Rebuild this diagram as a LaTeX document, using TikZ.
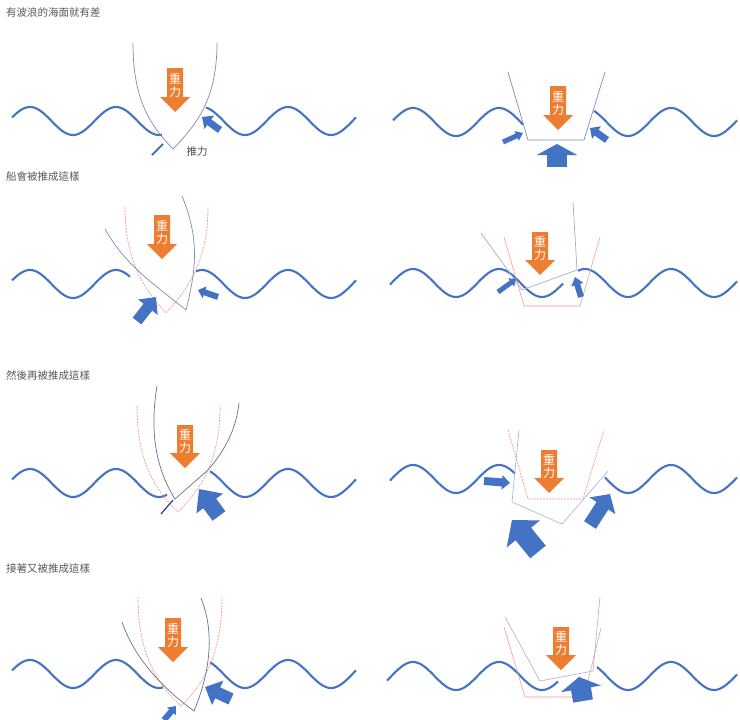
\documentclass[tikz,border=0pt]{standalone}
\usepackage{fontspec}
\newfontfamily\cjk{Noto Sans CJK TC}
\usetikzlibrary{arrows.meta}
\definecolor{wblue}{HTML}{4472C4}
\definecolor{worange}{HTML}{ED7D31}
\definecolor{hull}{HTML}{8088B8}
\definecolor{oldhull}{HTML}{F29A9A}
\newcommand{\mywave}[4]{\draw[wave] plot[domain=#1:#2,samples=90,smooth] (\x,{#3-14*cos(4.186*(\x-#4))});}
\newcommand{\mygrav}[4]{% name, cx, top, tip
  \fill[worange] (#2-8,#3) -- (#2+8,#3) -- (#2+8,#4-15) -- (#2+15,#4-15) -- (#2,#4) -- (#2-15,#4-15) -- (#2-8,#4-15) -- cycle;
  \node[lbl, text=white, font=\cjk\fontsize{12}{13}\selectfont, align=center] (#1) at (#2,{(#3+#4-10)/2}) {重\\力};}
\newcommand{\mypush}[6]{% name from, to, lw, headw, headl
  \coordinate (#1a) at (#2); \coordinate (#1b) at (#3);
  \draw[wblue, line width=#4pt, -{Triangle[width=#5pt,length=#6pt]}] (#1a) -- (#1b);}
\begin{document}
\begin{tikzpicture}[x=1pt,y=-1pt,
  wave/.style={wblue, line width=2.1pt},
  boat/.style={hull, line width=0.7pt},
  old/.style={oldhull, line width=0.7pt, dash pattern=on 2pt off 1pt},
  lbl/.style={inner sep=0pt},
  ttl/.style={lbl, anchor=west, text=black!65, font=\cjk\fontsize{10.5}{12}\selectfont}]
\useasboundingbox (0,0) rectangle (740,720);
% titles
\node[ttl] (t1) at (6,13) {有波浪的海面就有差};
\node[ttl] (t2) at (6,176) {船會被推成這樣};
\node[ttl] (t3) at (6,375) {然後再被推成這樣};
\node[ttl] (t4) at (6,568) {接著又被推成這樣};

% ===== Row 1 left
\mywave{12}{162}{121}{30}\mywave{206}{356}{121}{30}
\draw[boat] (133,43) .. controls (133,100) and (150,125) .. (173,149) .. controls (196,125) and (217,100) .. (217,43);
\mygrav{g1}{175}{68}{112}
\draw[wblue, line width=2pt] (152,155) -- (163,144);
\mypush{p1}{220,130}{202,117}{7}{16}{9}
\node[lbl, font=\cjk\fontsize{10.5}{12}\selectfont, text=black!70] (push) at (197,152) {推力};

% ===== Row 1 right
\mywave{393}{523}{122}{413}\mywave{594}{737}{122}{413}
\draw[boat] (508,72) -- (528,140) -- (584,140) -- (605,72);
\mygrav{g2}{558}{86}{130}
\mypush{p2}{503,142}{523,133}{5}{10}{7}
\mypush{p3}{607,140}{590,128}{7}{15}{8}
\mypush{p4}{557,167}{557,144}{20}{40}{11}

% ===== Row 2 left
\mywave{12}{130}{284}{30}\mywave{196}{356}{284}{30}
\draw[old] (125,207) .. controls (125,262) and (145,290) .. (166,313) .. controls (187,290) and (208,262) .. (208,207);
\draw[boat] (105,229) .. controls (125,265) and (155,285) .. (186,310) .. controls (196,270) and (200,240) .. (182,196);
\mygrav{g3}{162}{215}{259}
\mypush{p5}{137,321}{156,297}{11}{24}{13}
\mypush{p6}{218,297}{198,290}{6}{12}{7}

% ===== Row 2 right
\mywave{390}{563}{283}{413}\mywave{578}{737}{283}{413}
\draw[oldhull, line width=0.6pt] (504,237) -- (524,306) -- (580,306) -- (600,237);
\draw[boat, hull!70] (481,233) -- (522,290) -- (577,270) -- (573,202);
\mygrav{g4}{540}{232}{275}
\mypush{p7}{498,292}{516,279}{5}{10}{6}
\mypush{p8}{581,297}{575,277}{6}{12}{8}

% ===== Row 3 left
\mywave{12}{167}{483}{30}\mywave{210}{356}{483}{30}
\draw[old] (137,406) .. controls (137,462) and (155,490) .. (178,512) .. controls (200,490) and (220,462) .. (220,406);
\draw[boat, hull!80!black] (157,386) .. controls (148,440) and (160,475) .. (175,499) -- (208,470) .. controls (225,450) and (236,430) .. (239,403);
\draw[wblue!70!black, line width=1.3pt] (161,514) -- (173,500);
\mygrav{g5}{185}{425}{468}
\mypush{p9}{219,516}{199,489}{16}{32}{18}

% ===== Row 3 right
\mywave{390}{515}{479}{413}\mywave{605}{737}{479}{413}
\draw[old] (508,430) -- (528,499) -- (583,499) -- (604,430);
\draw[boat, hull!60] (519,430) -- (512,502) -- (562,524) -- (608,471);
\mygrav{g6}{549}{450}{493}
\mypush{p10}{484,481}{510,483}{8}{14}{8}
\mypush{p11}{538,552}{512,520}{20}{42}{18}
\mypush{p12}{590,525}{610,494}{14}{30}{14}

% ===== Row 4 left
\mywave{12}{163}{674}{30}\mywave{210}{356}{674}{30}
\draw[old] (138,597) .. controls (138,655) and (158,685) .. (181,706) .. controls (203,685) and (222,655) .. (222,597);
\draw[boat, hull!80!black] (122,622) .. controls (135,660) and (165,690) .. (194,711) .. controls (205,685) and (218,640) .. (201,598);
\mygrav{g7}{173}{618}{662}
\mypush{p13}{164,720}{176,706}{6}{11}{7}
\mypush{p14}{231,699}{205,687}{12}{26}{14}

% ===== Row 4 right
\mywave{387}{558}{676}{413}\mywave{597}{737}{676}{413}
\draw[oldhull, line width=0.6pt] (504,627) -- (525,697) -- (584,697) -- (601,628);
\draw[boat, hull!60] (505,617) -- (540,681) -- (593,671) -- (600,597);
\mygrav{g8}{561}{627}{670}
\mypush{p15}{583,701}{579,677}{20}{40}{12}
\end{tikzpicture}
\end{document}
